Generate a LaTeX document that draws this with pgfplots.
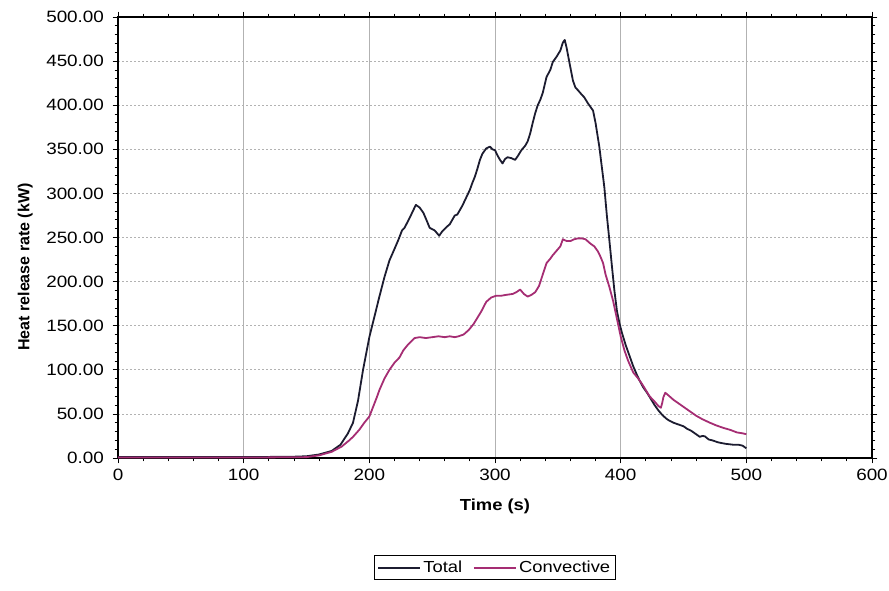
\documentclass[border=0pt]{standalone}
\usepackage{fontspec}
\setmainfont[FakeStretch=1.15]{Liberation Sans}
\newfontfamily\ylabfont{Liberation Sans}
\usepackage{pgfplots}
\pgfplotsset{compat=1.18}
\definecolor{totc}{RGB}{28,28,48}
\definecolor{convc}{RGB}{165,45,115}

\begin{document}
\begin{tikzpicture}
\begin{axis}[name=ax, scale only axis, width=565.5pt, height=330.75pt,
  xmin=0, xmax=600, ymin=0, ymax=500,
  xtick={0,100,...,600}, ytick={0,50,...,500},
  minor x tick num=4, minor y tick num=4,
  tick align=outside, major tick length=4pt, minor tick length=2.5pt,
  tick style={black, line width=0.6pt},
  axis line style={black, line width=1pt},
  grid=major,
  major x grid style={gray!60, line width=0.6pt},
  major y grid style={gray!60, line width=0.6pt, dash pattern=on 1.5pt off 1.5pt},
  /pgf/number format/assume math mode=true,
  y tick label style={/pgf/number format/.cd, fixed, fixed zerofill, precision=2, /tikz/.cd, xshift=-3pt},
  x tick label style={yshift=-1pt},
  ticklabel style={font=\fontsize{12.3}{14}\selectfont},
  xlabel={\textbf{Time (s)}},
  ylabel={\ylabfont\bfseries Heat release rate (kW)},
  label style={font=\fontsize{12}{14}\selectfont},
  xlabel style={at={(axis description cs:0.5,-0.109)}, anchor=center},
  ylabel style={at={(axis description cs:-0.123,0.433)}, anchor=center, rotate=0},
  legend style={draw=black, line width=0.6pt, at={(0.5,-0.22)}, anchor=north,
    legend columns=2, font=\fontsize{12}{14}\selectfont, inner sep=2pt,
    /tikz/every even column/.append style={column sep=6pt}},
  legend image code/.code={\draw[#1, line width=1.4pt] (0cm,0cm) -- (1.1cm,0cm);},
  every axis plot/.append style={line width=1.35pt, line join=round},
]
\addplot[totc] coordinates {
(0,1) (50,1) (100,1) (140,1.5) (150,2) (160,4) (170,8) (177,15) (183,28) (187,40)
(191,65) (195,100) (200,137) (204,160) (208,183) (212,205) (216,224) (220,237) (223,247) (226,258)
(228,261) (232,272) (237,287) (240,284) (243,278) (246,268) (248,261) (252,258) (255.6,252) (258,257)
(261.5,262) (264,265) (266,270) (268,275) (270,276) (272,281) (274,286) (276,292) (278,298) (280,304)
(282,312) (284,319) (286,328) (288,338) (290,345) (293,351) (296,353) (298,350) (300,349) (302,343)
(304,338) (306,334) (308,339) (310,341) (313,340) (316,338) (318,342) (321,349) (324,354) (326,359)
(328,368) (330,380) (332,391) (334,400) (336,406) (338,414) (341,432) (344,440) (346,449) (349,455)
(352,462) (354,471) (355.5,474) (357,465) (359,450) (362,428) (364,420) (366,417) (369,412) (371,409)
(374,402) (376,398) (378,394) (380,380) (383,353) (385,330) (387,307) (389,275) (391,247) (393,218)
(395,190) (397,167) (399,153) (401,142) (404,128) (407,116) (410,104) (413,94) (415,88) (418,80)
(421,74) (424,67) (427,60) (430,54) (433,49) (436,45) (438,43) (442,40) (446,38) (450,36)
(453,33) (456,31) (460,27) (463,24) (465,25) (467,24.6) (470,21) (473,20) (477,18) (480,17)
(484,16) (490,15) (494,15) (497,14) (500,11)
};
\addlegendentry{Total}
\addplot[convc] coordinates {
(0,0.5) (50,0.5) (100,0.5) (150,1) (160,3) (170,7) (178,13) (184,20) (187,24) (192,32)
(196,40) (200,47) (203,58) (206,69) (208,77) (212,90) (216,100) (220,108) (224,114) (227,122)
(231,129) (236,136) (240,137) (245,136) (250,137) (255,138) (260,137) (264,138) (268,137) (271,138)
(275,140) (279,145) (283,152) (286,159) (289,166) (293,177) (297,182) (301,184) (305,184) (309,185)
(314,186) (317,188) (320,191) (323,186) (326,183) (329,185) (332,188) (335,195) (338,208) (341,221)
(344,226) (346,230) (349,235) (352,240) (354,248) (357,246) (360,246) (363,248) (366,249) (369,249)
(372,248) (376,243) (379,240) (382,234) (384,228) (386,221) (388,208) (391,194) (394,178) (397,158)
(400,138) (403,122) (406,110) (410,97) (414,90) (417,84) (420,77) (423,70) (427,64) (430,59)
(432,57) (433,62) (434,69) (435.5,74) (438,71) (442,66) (446,62) (450,58) (455,53) (460,48)
(465,44) (471,40) (476,37) (482,34) (487,32) (492.5,29) (497,28) (500,27)
};
\addlegendentry{Convective}
\end{axis}
\pgfresetboundingbox
\path ([shift={(-88.5pt,-99pt)}]ax.south west) rectangle ([shift={(12.75pt,12.75pt)}]ax.north east);
\end{tikzpicture}
\end{document}
